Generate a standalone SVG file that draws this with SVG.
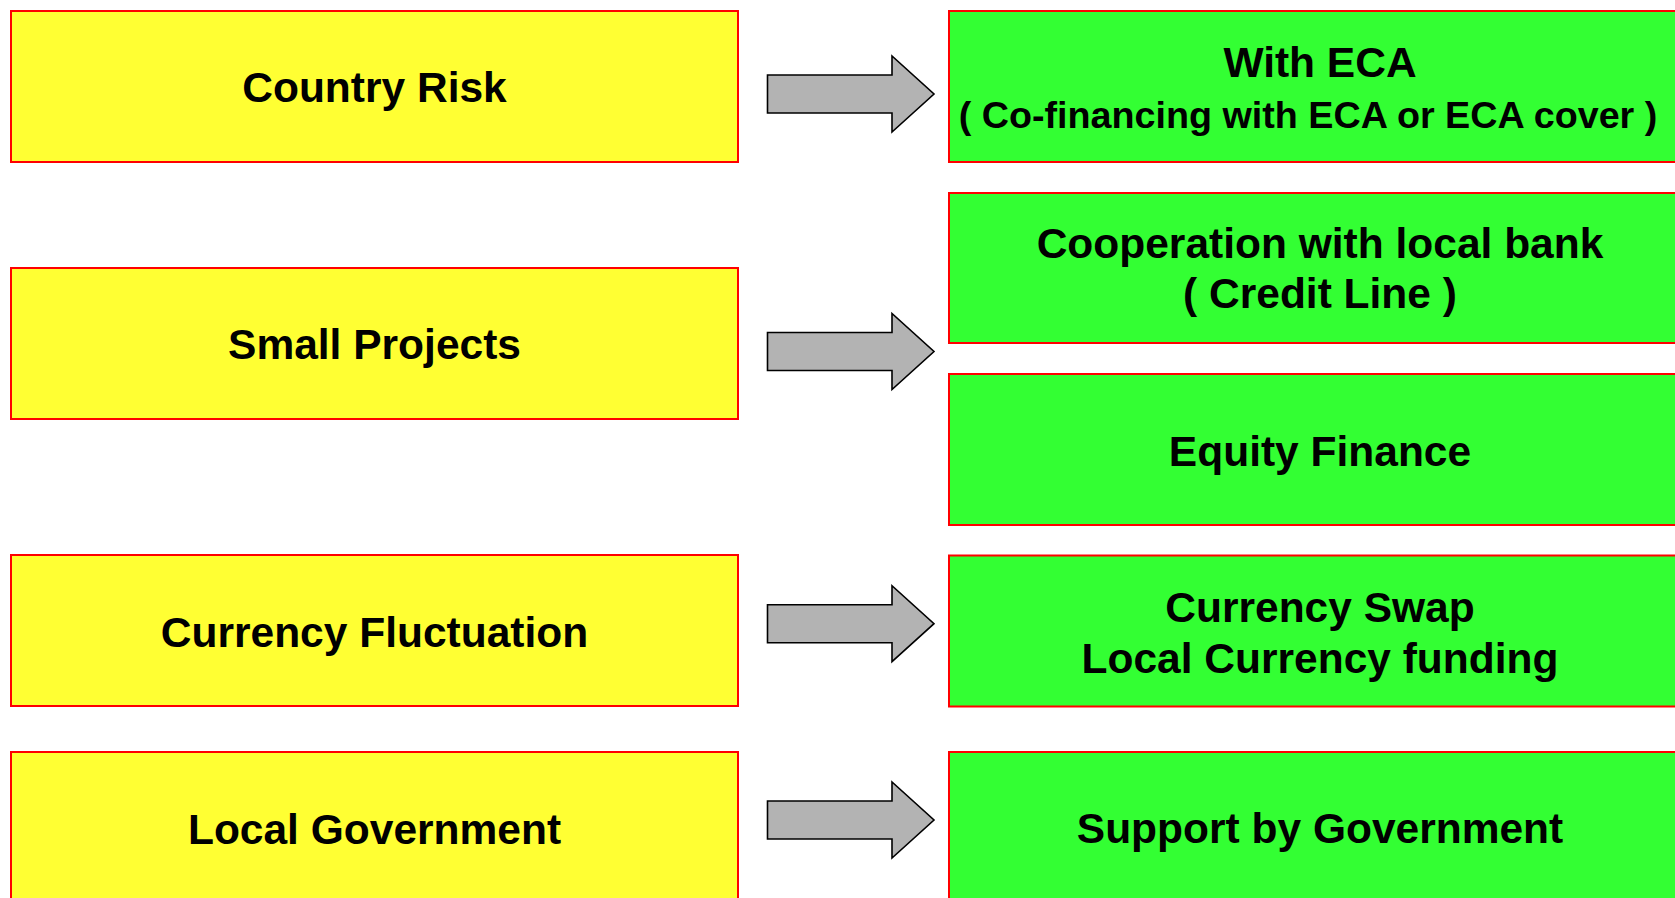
<svg xmlns="http://www.w3.org/2000/svg" width="1675" height="898" viewBox="0 0 1675 898">
<style>
.y{fill:#FFFF33;stroke:#FF0000;stroke-width:2}
.g{fill:#33FF33;stroke:#FF0000;stroke-width:2}
.t{font-family:"Liberation Sans",Arial,sans-serif;font-weight:bold;font-size:42.5px;fill:#000;text-anchor:middle}
.s{font-size:37.7px}
.a{fill:#B3B3B3;stroke:#000;stroke-width:1.6;stroke-linejoin:miter}
</style>
<defs>
<path id="arr" d="M767.5,75 L892,75 L892,56 L934,94 L892,132 L892,113 L767.5,113 Z"/>
</defs>
<rect width="1675" height="898" fill="#FFFFFF"/>
<g id="country-risk"><rect class="y" x="11" y="11" width="727" height="151"/><text class="t" x="374.5" y="102.3">Country Risk</text></g>
<g id="small-projects"><rect class="y" x="11" y="268" width="727" height="151"/><text class="t" x="374.5" y="359.3">Small Projects</text></g>
<g id="currency-fluctuation"><rect class="y" x="11" y="555" width="727" height="151"/><text class="t" x="374.5" y="646.7">Currency Fluctuation</text></g>
<g id="local-government"><rect class="y" x="11" y="752" width="727" height="160"/><text class="t" x="374.5" y="844">Local Government</text></g>
<g id="with-eca"><rect class="g" x="949" y="11" width="760" height="151"/><text class="t" x="1320" y="77.3">With ECA</text><text class="t s" x="1308" y="127.7">( Co-financing with ECA or ECA cover )</text></g>
<g id="cooperation"><rect class="g" x="949" y="193" width="760" height="150"/><text class="t" x="1320" y="258.3">Cooperation with local bank</text><text class="t" x="1320" y="308.3">( Credit Line )</text></g>
<g id="equity-finance"><rect class="g" x="949" y="374" width="760" height="151"/><text class="t" x="1320" y="466">Equity Finance</text></g>
<g id="currency-swap"><rect class="g" x="949" y="555.5" width="760" height="151"/><text class="t" x="1320" y="621.7">Currency Swap</text><text class="t" x="1320" y="672.7">Local Currency funding</text></g>
<g id="support-government"><rect class="g" x="949" y="752" width="760" height="160"/><text class="t" x="1320" y="843.3">Support by Government</text></g>
<g id="connectors">
<use href="#arr" class="a"/>
<use href="#arr" class="a" transform="translate(0,257.5)"/>
<use href="#arr" class="a" transform="translate(0,529.7)"/>
<use href="#arr" class="a" transform="translate(0,726)"/>
</g>
</svg>
